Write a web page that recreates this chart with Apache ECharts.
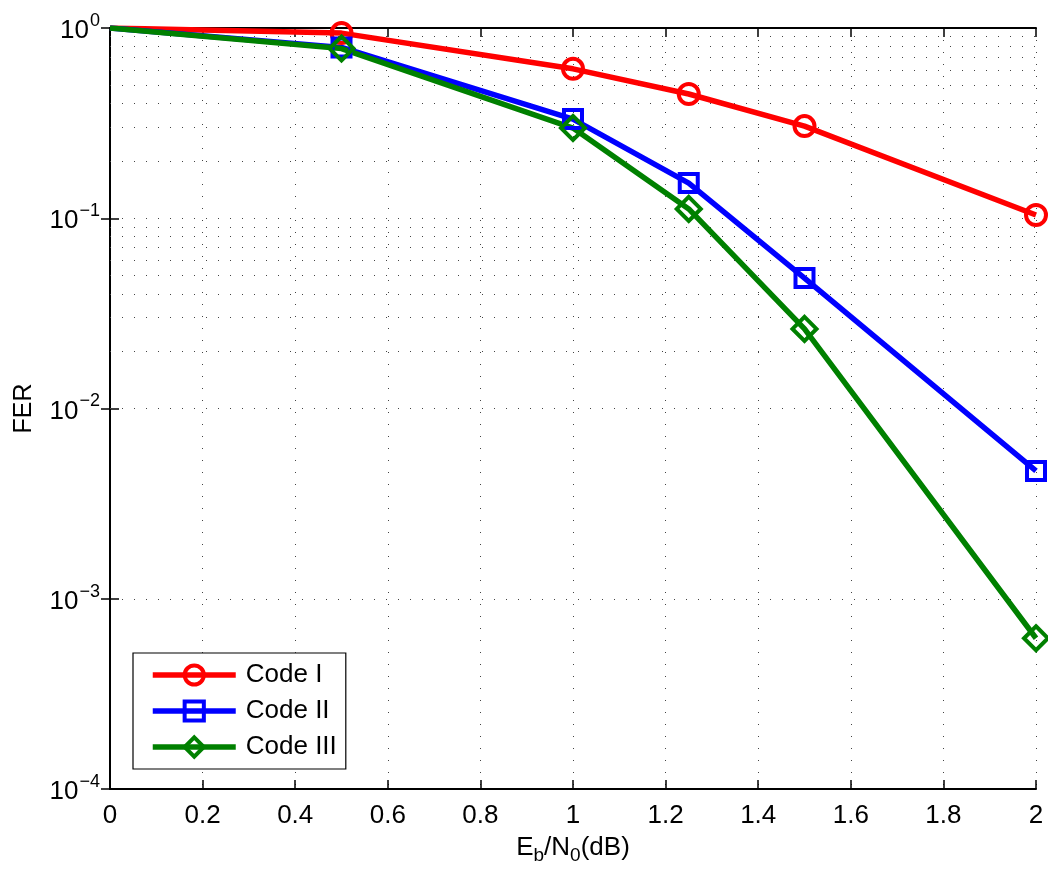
<!DOCTYPE html>
<html>
<head>
<meta charset="utf-8">
<script src="https://cdn.jsdelivr.net/npm/echarts@6/dist/echarts.min.js"></script>
<style>
  html, body { margin: 0; padding: 0; background: #fff; }
  #chart { width: 1048px; height: 873px; }
</style>
</head>
<body>
<div id="chart"></div>
<script>
// Eb/N0 (dB) points
const snr = [0, 0.5, 1, 1.25, 1.5, 2];
// FER values
const codeI = [1, 0.94, 0.61, 0.45, 0.305, 0.104];
const codeII = [1, 0.79, 0.332, 0.153, 0.0485, 0.0047];
const codeIII = [1, 0.78, 0.298, 0.112, 0.0262, 0.00062];
const seriesNames = ['Code I', 'Code II', 'Code III'];

const FONT = 'Liberation Sans, Arial, sans-serif';
const dotted = { color: '#444', width: 1, type: [1, 11] };

// minor grid lines at 2..9 x 10^d
const minorLines = [];
for (let d = -4; d < 0; d++) {
  for (let k = 2; k <= 9; k++) minorLines.push({ yAxis: k * Math.pow(10, d) });
}

function pts(ys) {
  return snr.map((x, i) => (x === 0 ? { value: [x, ys[i]], symbol: 'none' } : [x, ys[i]]));
}

function lineSeries(name, ys, color, symbol, size) {
  return {
    name: name,
    type: 'line',
    data: pts(ys),
    z: 5,
    symbol: symbol,
    symbolSize: size,
    showAllSymbol: true,
    lineStyle: { color: color, width: 5.5 },
    itemStyle: { color: 'rgba(255,255,255,0)', borderColor: color, borderWidth: 4 },
    emphasis: { disabled: true },
    animation: false
  };
}

const tickStyle = { inside: true, length: 9, lineStyle: { color: '#000', width: 1.5 } };

const chart = echarts.init(document.getElementById('chart'));

const option = {
  animation: false,
  grid: { left: 110, right: 12, top: 28, bottom: 84, show: false, containLabel: false, outerBoundsMode: 'none' },
  textStyle: { fontFamily: FONT },
  legend: {
    data: seriesNames,
    orient: 'vertical',
    left: 133,
    top: 653,
    padding: [9, 9, 9, 17],
    itemGap: 10,
    itemWidth: 83,
    itemHeight: 24,
    backgroundColor: '#fff',
    borderColor: '#000',
    borderWidth: 1.2,
    borderRadius: 0,
    lineStyle: { width: 5.5 },
    itemStyle: { borderWidth: 4 },
    textStyle: { fontSize: 26, color: '#000', fontFamily: FONT, padding: [0, 0, 0, 5] }
  },
  xAxis: [
    {
      type: 'value', min: 0, max: 2, interval: 0.2,
      axisLine: { lineStyle: { color: '#000', width: 2 } },
      axisTick: tickStyle,
      axisLabel: {
        fontSize: 26, color: '#000', margin: 14, fontFamily: FONT,
        formatter: v => String(+v.toFixed(1))
      },
      splitLine: { show: true, lineStyle: dotted },
      name: 'E{sub|b}/N{sub|0}(dB)',
      nameLocation: 'middle',
      nameGap: 41,
      nameTextStyle: {
        fontSize: 26, color: '#000', fontFamily: FONT,
        rich: { sub: { fontSize: 19, color: '#000', fontFamily: FONT, padding: [16, 0, 0, 0] } }
      }
    },
    {
      type: 'value', min: 0, max: 2, interval: 0.2, position: 'top',
      axisLine: { show: true, lineStyle: { color: '#000', width: 2 } },
      axisTick: tickStyle,
      axisLabel: { show: false },
      splitLine: { show: false }
    }
  ],
  yAxis: [
    {
      type: 'log', logBase: 10, min: 1e-4, max: 1, interval: 1,
      axisLine: { show: true, lineStyle: { color: '#000', width: 2 } },
      axisTick: { show: true, ...tickStyle },
      axisLabel: {
        color: '#000', margin: 10, fontFamily: FONT,
        formatter: v => {
          const e = Math.round(Math.log10(v));
          return '{b|10}{s|' + (e < 0 ? '\u2212' + (-e) : e) + '}';
        },
        rich: {
          b: { fontSize: 26, color: '#000', fontFamily: FONT, padding: [6, 0, 0, 0] },
          s: { fontSize: 18, color: '#000', fontFamily: FONT, padding: [0, 0, 14, 1] }
        }
      },
      splitLine: { show: true, lineStyle: dotted },
      name: 'FER',
      nameLocation: 'middle',
      nameGap: 73,
      nameRotate: 90,
      nameTextStyle: { fontSize: 25, color: '#000', fontFamily: FONT }
    },
    {
      type: 'log', logBase: 10, min: 1e-4, max: 1, interval: 1, position: 'right',
      axisLine: { show: true, lineStyle: { color: '#000', width: 2 } },
      axisTick: { show: true, ...tickStyle },
      axisLabel: { show: false },
      splitLine: { show: false }
    }
  ],
  series: [
    {
      name: 'grid',
      type: 'line',
      data: [],
      z: 1,
      silent: true,
      markLine: {
        silent: true,
        symbol: 'none',
        animation: false,
        label: { show: false },
        lineStyle: dotted,
        emphasis: { disabled: true },
        data: minorLines
      }
    },
    lineSeries('Code I', codeI, '#ff0000', 'circle', 20),
    lineSeries('Code II', codeII, '#0000ff', 'rect', 18),
    lineSeries('Code III', codeIII, '#008000', 'diamond', 24)
  ]
};

chart.setOption(option);
</script>
</body>
</html>
